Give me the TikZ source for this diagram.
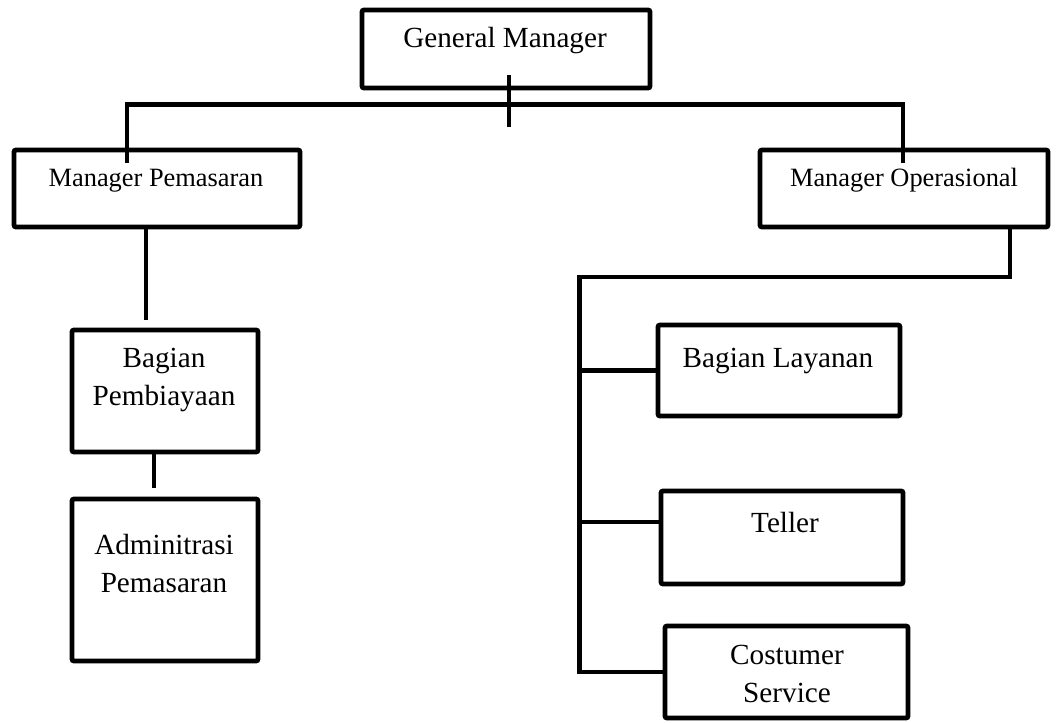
\documentclass[tikz,border=0pt]{standalone}
\usepackage{fontspec}
\setmainfont{Liberation Serif}
\usetikzlibrary{calc}

\begin{document}
\begin{tikzpicture}[x=0.5pt,y=0.5pt,
    box/.style={draw,line width=2.4pt,rounded corners=1pt,inner sep=0pt},
    conn/.style={line width=2.2pt},
    big/.style={font=\fontsize{14.6}{19}\selectfont,align=center,inner sep=0pt},
    small/.style={font=\fontsize{13.2}{16}\selectfont,inner sep=0pt}]
  \useasboundingbox (0,0) rectangle (1058,-722);
  % boxes
  \node[box,minimum width=144pt,minimum height=39pt] (gm) at (506,-49) {};
  \node[box,minimum width=143pt,minimum height=38.5pt] (mp) at (157,-188.5) {};
  \node[box,minimum width=144pt,minimum height=38.5pt] (mo) at (904,-188.5) {};
  \node[box,minimum width=93pt,minimum height=61pt] (bp) at (165,-391) {};
  \node[box,minimum width=93pt,minimum height=81pt] (ap) at (165,-580) {};
  \node[box,minimum width=121pt,minimum height=45.5pt] (bl) at (779,-370.5) {};
  \node[box,minimum width=121pt,minimum height=46.5pt] (tl) at (782,-537.5) {};
  \node[box,minimum width=121.5pt,minimum height=46pt] (cs) at (786.5,-672) {};
  % texts
  \node[big,anchor=base] (gmt) at (505,-48) {General Manager};
  \node[small,anchor=base] (mpt) at (156,-186) {Manager Pemasaran};
  \node[small,anchor=base] (mot) at (904,-186) {Manager Operasional};
  \node[big] (bpt) at (164,-380) {Bagian\\Pembiayaan};
  \node[big] (apt) at (164,-564) {Adminitrasi\\Pemasaran};
  \node[big,anchor=base] (blt) at (778,-367) {Bagian Layanan};
  \node[big,anchor=base] (tlt) at (785,-532) {Teller};
  \node[big] (cst) at (787,-673.5) {Costumer\\Service};
  % lines
  \draw[conn] ($(gm.south)+(3,15)$) -- ($(gm.south)+(3,-37)$);
  \draw[conn] ($(mp.north)+(-30,-15)$) |- ($(mo.north)+(-1,43)$) -- ($(mo.north)+(-1,-15)$);
  \draw[conn] ($(mp.south)+(-11,0)$) -- ($(bp.north)+(-19,8)$);
  \draw[conn] ($(bp.south)+(-11,0)$) -- ($(ap.north)+(-11,9)$);
  \coordinate (trunk) at ($(bl.west)+(-76,93.5)$);
  \coordinate (tlj) at ($(tl.west)+(0,15.5)$);
  \draw[conn] ($(mo.south)+(106,0)$) |- (trunk) |- (cs.west);
  \draw[conn] (bl.west) -- (bl.west -| trunk);
  \draw[conn] (tlj) -- (tlj -| trunk);
\end{tikzpicture}
\end{document}
